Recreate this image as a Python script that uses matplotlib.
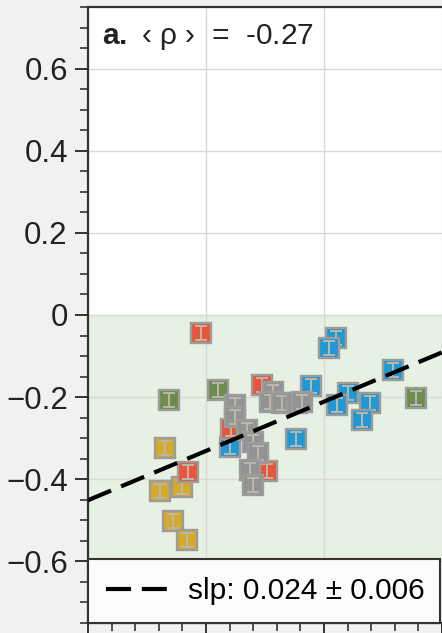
import numpy as np
import matplotlib
matplotlib.use("Agg")
import matplotlib.pyplot as plt
from matplotlib.ticker import MultipleLocator, FuncFormatter

plt.rcParams["font.family"] = ["Liberation Sans", "DejaVu Sans"]
plt.rcParams["mathtext.fontset"] = "custom"
plt.rcParams["mathtext.rm"] = "Liberation Sans"
plt.rcParams["mathtext.bf"] = "Liberation Sans:bold"

# ---- data ----
red_x = [4.77, 7.36, 6.05, 4.23, 7.57]
red_y = [-0.043, -0.171, -0.278, -0.382, -0.380]

green_x = [3.45, 5.52, 13.9]
green_y = [-0.207, -0.183, -0.201]

yellow_x = [3.26, 3.05, 3.97, 3.62, 4.18]
yellow_y = [-0.323, -0.428, -0.419, -0.501, -0.547]

blue_x = [10.5, 10.2, 12.94, 9.45, 11.03, 10.53, 11.95, 11.6, 8.8, 6.02]
blue_y = [-0.057, -0.081, -0.134, -0.174, -0.191, -0.220, -0.215, -0.256, -0.301, -0.321]

gray_x = [7.85, 7.71, 8.21, 8.84, 9.07, 6.23, 6.23, 6.72, 7.0, 7.22, 6.86, 7.0]
gray_y = [-0.187, -0.211, -0.215, -0.215, -0.212, -0.220, -0.248, -0.280, -0.309, -0.337, -0.378, -0.415]

point_err = 0.017

fit_slope = 0.024
fit_intercept = -0.451
slope_err = 0.006
mean_rho = -0.27

# ---- style ----
FS = 22.5
COL_RED = "#e9553b"
COL_GREEN = "#6b8e4e"
COL_YELLOW = "#d4aa2c"
COL_BLUE = "#1f98d3"
COL_GRAY = "#939393"
EDGE = "#9c9c9c"
BAR = "#bdb6ab"

fig = plt.figure(figsize=(4.42, 6.33), dpi=100)
fig.patch.set_facecolor("#f1f1f1")
ax = fig.add_axes([88 / 442, 1 - 623 / 633, 472 / 442, 616 / 633])

ax.set_xlim(0, 20)
ax.set_ylim(-0.75, 0.75)
ax.axhspan(-0.75, 0, color="#e6f0e3", zorder=0)
ax.grid(True, which="major", color="#d9d9d9", lw=1.0, zorder=0.5)

groups = [
    (blue_x, blue_y, COL_BLUE),
    (yellow_x, yellow_y, COL_YELLOW),
    (red_x, red_y, COL_RED),
    (green_x, green_y, COL_GREEN),
    (gray_x, gray_y, COL_GRAY),
]
z = 3
for gx, gy, c in groups:
    for xi, yi in zip(gx, gy):
        ax.plot(xi, yi, "s", ms=15, mfc=c, mec=EDGE, mew=1.7, zorder=z)
        ax.errorbar(xi, yi, yerr=point_err, fmt="none", ecolor=BAR,
                    elinewidth=1.4, capsize=4.2, capthick=1.4, zorder=z + 0.01)
        z += 0.02

xs = np.array(ax.get_xlim())
ax.plot(xs, fit_intercept + fit_slope * xs, color="black", lw=3.0,
        dashes=(6, 2.6), zorder=20,
        label=f"slp: {fit_slope:.3f} ± {slope_err:.3f}")

ax.text(0.029, 0.975, r"$\bf{a.}$" + f" ‹ ρ ›  =  {mean_rho:.2f}",
        transform=ax.transAxes, ha="left", va="top", fontsize=21.5,
        color="#222222", zorder=25)

# ticks
ax.yaxis.set_major_locator(MultipleLocator(0.2))
ax.yaxis.set_minor_locator(MultipleLocator(0.05))
ax.xaxis.set_major_locator(MultipleLocator(5))
ax.xaxis.set_minor_locator(MultipleLocator(1))
ax.yaxis.set_major_formatter(FuncFormatter(lambda v, p: f"{v:g}".replace("-", "\u2212")))
ax.tick_params(which="major", length=9.5, width=1.4, labelsize=FS, color="#333333",
               labelcolor="#222222", pad=5)
ax.tick_params(which="minor", length=5.5, width=1.2, color="#333333")
ax.tick_params(axis="x", labelbottom=False)
for s in ax.spines.values():
    s.set_linewidth(1.6)
    s.set_color("#333333")

leg = ax.legend(loc="lower left", bbox_to_anchor=(0, 0, 352 / 472, 0.1),
                mode="expand", borderaxespad=0, fontsize=21.5, frameon=True,
                fancybox=False, edgecolor="#333333", facecolor="#fbfbfb",
                framealpha=1, handlelength=2.2, handletextpad=0.55,
                borderpad=0.6)
leg.get_frame().set_linewidth(1.5)
leg.set_zorder(30)

fig.savefig("out.png", dpi=100, facecolor=fig.get_facecolor())
